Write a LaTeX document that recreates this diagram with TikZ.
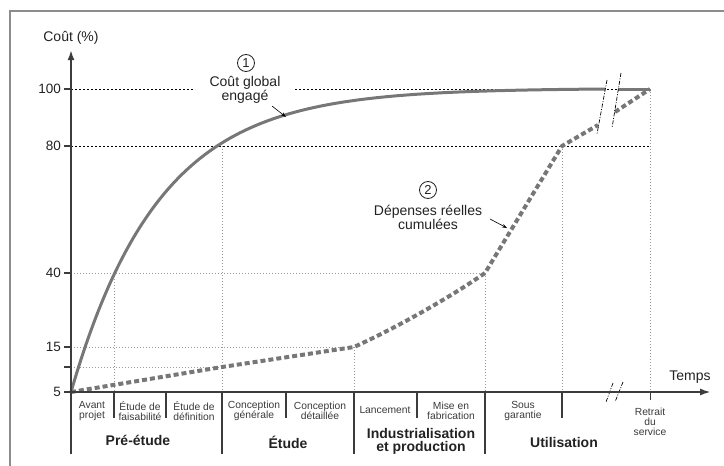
\documentclass[tikz,border=0pt]{standalone}
\usepackage{fontspec}
\setmainfont{Liberation Sans}
\usetikzlibrary{arrows.meta}
\definecolor{axisc}{HTML}{3C3C3C}
\definecolor{curvec}{HTML}{777777}
\definecolor{dotc}{HTML}{9A9A9A}
\definecolor{framec}{HTML}{8C8C8C}
\definecolor{txtc}{HTML}{222222}
\definecolor{smallc}{HTML}{3A3A3A}
\begin{document}
\begin{tikzpicture}[x=1pt,y=-1pt,
 axis/.style={draw=axisc,line width=2pt},
 sepline/.style={draw=axisc,line width=1.5pt},
 guide/.style={draw=dotc,line width=0.8pt,dash pattern=on 1pt off 2pt},
 refline/.style={draw=black,line width=0.6pt,dash pattern=on 2pt off 2pt},
 solidc/.style={draw=curvec,line width=3pt},
 dashc/.style={draw=curvec,line width=4pt,dash pattern=on 5pt off 3pt},
 brk/.style={draw=black,line width=0.7pt,dash pattern=on 4pt off 1.5pt on 1pt off 1.5pt},
 small/.style={font=\fontsize{10.3}{10}\selectfont,text=smallc,align=center,inner sep=0pt},
 phase/.style={font=\fontsize{14}{13}\selectfont\bfseries,text=txtc,align=center,inner sep=0pt},
 lab/.style={font=\fontsize{14}{14.5}\selectfont,text=txtc,inner sep=0pt,align=center},
 ylab/.style={font=\fontsize{13.5}{14}\selectfont,text=txtc,anchor=east,inner sep=0pt},
 num/.style={draw=txtc,circle,line width=0.8pt,minimum size=17pt,inner sep=0pt,font=\fontsize{13}{13}\selectfont,text=txtc},
 pointer/.style={draw=black,line width=0.6pt,-{Stealth[length=5pt,width=3.5pt]}}
]
\useasboundingbox (0,0) rectangle (724,466);
% frame
\draw[framec,line width=1.5pt] (10,466) -- (10,11) -- (724,11);

% reference lines
\draw[refline] (71,89) -- (195,89);
\draw[refline] (295,89) -- (650,89);
\draw[refline] (71,146) -- (650,146);
\draw[guide] (71,273) -- (485,273);
\draw[guide] (71,347) -- (354,347);
\draw[guide] (71,367) -- (222,367);
\draw[guide] (114,273) -- (114,392);
\draw[guide] (222,146) -- (222,392);
\draw[guide] (354,347) -- (354,392);
\draw[guide] (485,273) -- (485,392);
\draw[guide] (562,146) -- (562,392);
\draw[guide] (650,89) -- (650,392);

% solid curve (cout global engage)
\draw[solidc] plot[domain=0:534,samples=140,smooth] ({71+\x},{392-303*(1-exp(-\x/88))/(1-exp(-534/88))});
\draw[solidc] (618,89) -- (650,89);

% dashed curve (depenses reelles)
\draw[dashc] (71,392) -- (222,367) -- (354,347)
  .. controls (400,326) and (452,296) .. (485,273)
  -- (562,146) -- (598,125);
\draw[dashc] (615,112) -- (650,89);

% break marks
\draw[brk] (607,80) -- (597,134);
\draw[brk] (621,73) -- (612,128);
\draw[brk] (613,383) -- (606,402);
\draw[brk] (623,382) -- (615,402);

% axes
\coordinate (O) at (71,392);
\coordinate (ybot) at (71,454);
\coordinate (ytop) at (71,50);
\coordinate (xend) at (711,392);
\draw[axis,-{Latex[length=10pt,width=7pt]}] (ybot) -- (ytop);
\draw[axis,-{Latex[length=11pt,width=7pt]}] (O) -- (xend);

% y ticks and labels
\foreach \yy/\tt in {89/100,146/80,273/40,347/15,392/5} {
  \draw[sepline] (64,\yy) -- (71,\yy);
  \node[ylab] (y\tt) at (61,\yy) {\tt};
}
\draw[sepline] (64,367) -- (71,367);

\node[lab] (ytitle) at (71,38) {Coût (\%)};
\node[lab] (xtitle) at (690,377) {Temps};

% separators
\foreach \xx in {114,166,286,417,562} \draw[sepline] (\xx,392) -- (\xx,418);
\foreach \xx in {222,354,485} \draw[sepline] (\xx,392) -- (\xx,454);
\draw[axisc,line width=1pt] (650,392) -- (650,400);

% sub-phase labels
\node[small] (avant) at (92,411) {Avant\\projet};
\node[small] (faisa) at (140,411) {Étude de\\faisabilité};
\node[small] (defin) at (194,411) {Étude de\\définition};
\node[small] (cgen) at (254,411) {Conception\\générale};
\node[small] (cdet) at (320,411) {Conception\\détaillée};
\node[small] (lanc) at (385,410) {Lancement};
\node[small] (mise) at (451,411) {Mise en\\fabrication};
\node[small] (sous) at (523,411) {Sous\\garantie};
\node[small] (retr) at (650,422) {Retrait\\du\\service};

% phase labels
\node[phase] (pre) at (138,440) {Pré-étude};
\node[phase] (etude) at (288,442) {Étude};
\node[phase] (indus) at (421,441.5) {Industrialisation\\et production};
\node[phase] (util) at (564,442) {Utilisation};

% annotations
\node[num] (c1) at (246,63) {1};
\node[lab] (t1) at (245,90) {Coût global\\engagé};
\coordinate (p1a) at (272,106);
\coordinate (p1b) at (286,117);
\draw[pointer] (p1a) -- (p1b);

\node[num] (c2) at (428,190) {2};
\node[lab] (t2) at (428,217.5) {Dépenses réelles\\cumulées};
\coordinate (p2a) at (490,219);
\coordinate (p2b) at (507,228);
\draw[pointer] (p2a) -- (p2b);
\end{tikzpicture}
\end{document}
